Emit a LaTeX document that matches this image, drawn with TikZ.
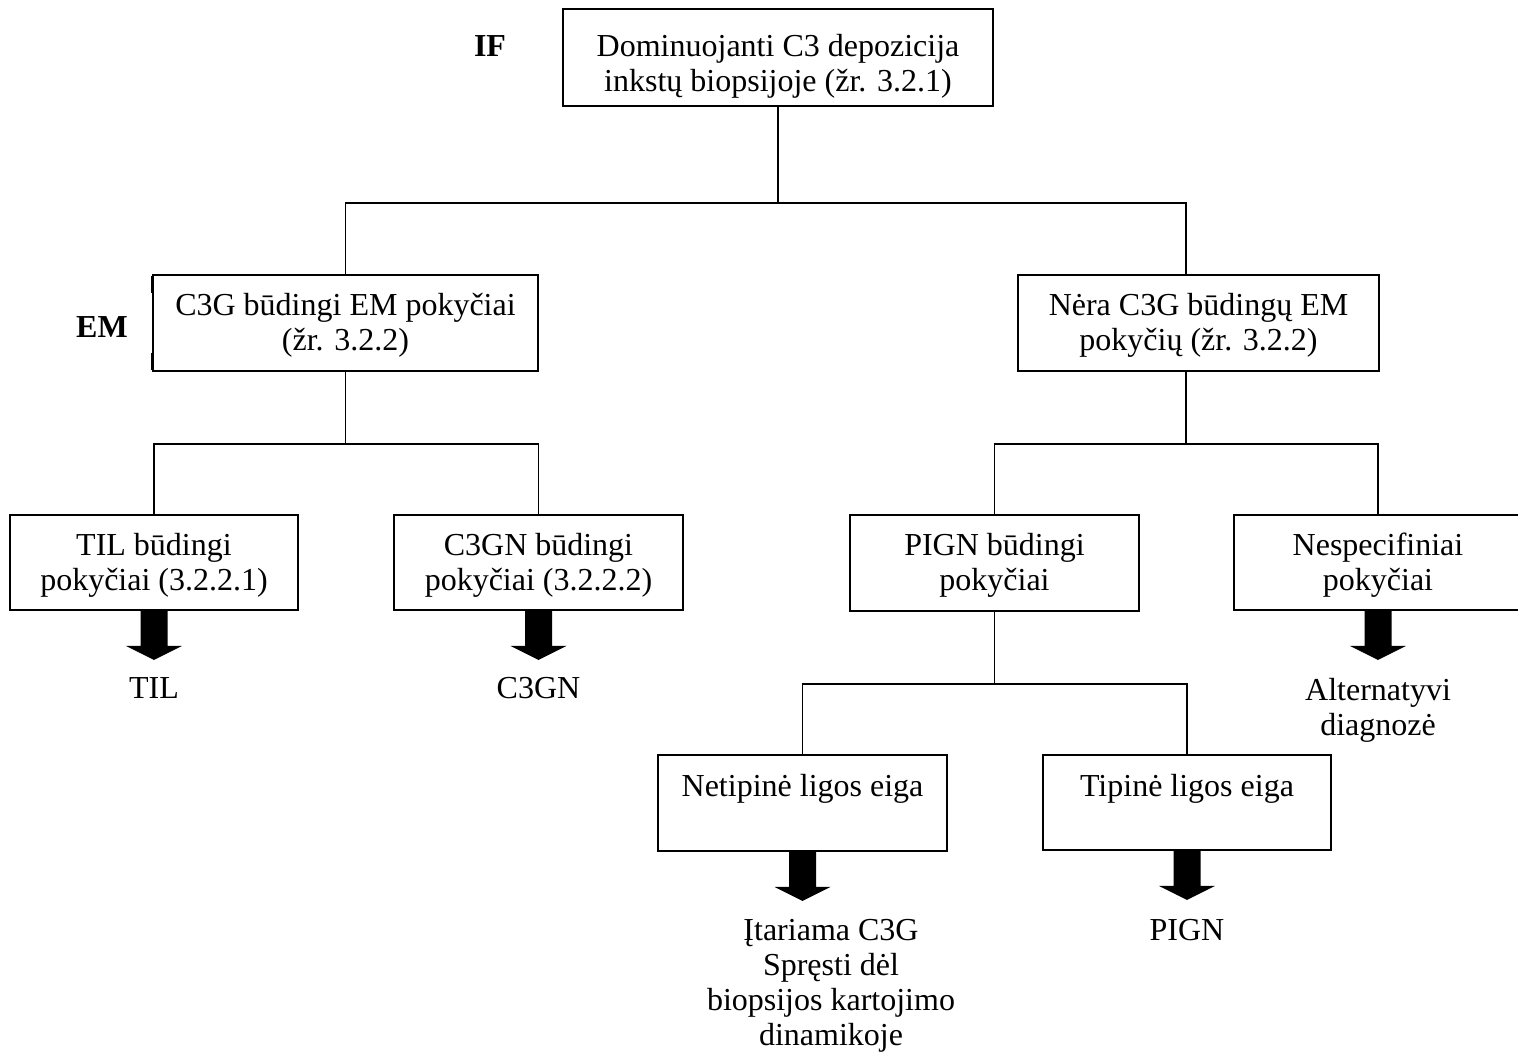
\documentclass[tikz,border=0pt]{standalone}
\usepackage{fontspec}
\setmainfont{Liberation Serif}
\usetikzlibrary{calc}
\newcommand\dgfont{\fontsize{32}{35}\selectfont}
\newcommand\tl[1]{\begin{tabular}[t]{@{}c@{}}#1\end{tabular}}
\newcommand\blockarrow[1]{%
  \fill ($(#1.south)+(-13.5,-1)$) -- ($(#1.south)+(13.5,-1)$) -- ($(#1.south)+(13.5,35)$)
    -- ($(#1.south)+(28,35)$) -- ($(#1.south)+(0,49)$) -- ($(#1.south)+(-28,35)$)
    -- ($(#1.south)+(-13.5,35)$) -- cycle;}
\begin{document}
\begin{tikzpicture}[x=1pt,y=-1pt,
  box/.style={draw, line width=1.8pt, inner sep=0pt},
  txt/.style={inner sep=0pt, anchor=base, font=\dgfont},
  lbl/.style={inner sep=0pt, anchor=base, font=\dgfont\bfseries},
  conn/.style={line width=1.6pt}]
\useasboundingbox (0,0) rectangle (1518,1056);
\fill[white] (0,0) rectangle (1518,1056);

% boxes
\node[box, minimum width=430pt, minimum height=97pt] (top) at (778,57.5) {};
\node[box, minimum width=385pt, minimum height=96pt] (c3g) at (345.5,323) {};
\node[box, minimum width=361pt, minimum height=96pt] (nera) at (1198.5,323) {};
\node[box, minimum width=288pt, minimum height=95pt] (til) at (154,562.5) {};
\node[box, minimum width=289pt, minimum height=95pt] (c3gn) at (538.5,562.5) {};
\node[box, minimum width=289pt, minimum height=96pt] (pign) at (994.5,563) {};
\node[box, minimum width=288pt, minimum height=95pt] (nesp) at (1378,562.5) {};
\node[box, minimum width=289pt, minimum height=96pt] (netip) at (802.5,803) {};
\node[box, minimum width=288pt, minimum height=95pt] (tip) at (1187,802.5) {};

% small marks on left edge of the EM box
\draw[line width=1.4pt] (151.5,276) -- (151.5,293);
\draw[line width=1.4pt] (151.5,353) -- (151.5,370);

% box texts
\node[txt] (ttop) at (778,57) {\tl{Dominuojanti C3 depozicija\\inkstų biopsijoje (žr. 3.2.1)}};
\node[txt] (tc3g) at (345.5,316) {\tl{C3G būdingi EM pokyčiai\\(žr. 3.2.2)}};
\node[txt] (tnera) at (1198.5,316) {\tl{Nėra C3G būdingų EM\\pokyčių (žr. 3.2.2)}};
\node[txt] (ttil) at (154,555) {\tl{TIL būdingi\\pokyčiai (3.2.2.1)}};
\node[txt] (tc3gn) at (538.5,555) {\tl{C3GN būdingi\\pokyčiai (3.2.2.2)}};
\node[txt] (tpign) at (994.5,555) {\tl{PIGN būdingi\\pokyčiai}};
\node[txt] (tnesp) at (1378,555) {\tl{Nespecifiniai\\pokyčiai}};
\node[txt] (tnetip) at (802.5,796) {Netipinė ligos eiga};
\node[txt] (ttip) at (1187,796) {Tipinė ligos eiga};

% side labels
\node[lbl] (if) at (490,57) {IF};
\node[lbl] (em) at (102,338) {EM};

% connectors
\coordinate (j1) at (778,203);
\draw[conn] (top.south) -- (j1);
\draw[conn] (c3g.north) |- (j1) -| ([xshift=-12.5pt]nera.north);
\draw[conn] (c3g.south) -- ++(0,72) coordinate (j2);
\draw[conn] (til.north) |- (j2) -| (c3gn.north);
\draw[conn] ([xshift=-12.5pt]nera.south) -- ++(0,72) coordinate (j3);
\draw[conn] (pign.north) |- (j3) -| (nesp.north);
\draw[conn] (pign.south) -- ++(0,72) coordinate (j4);
\draw[conn] (netip.north) |- (j4) -| (tip.north);

% block arrows
\blockarrow{til}
\blockarrow{c3gn}
\blockarrow{nesp}
\blockarrow{netip}
\blockarrow{tip}

% outcomes
\node[txt] (otil) at (154,698) {TIL};
\node[txt] (oc3gn) at (538.5,698) {C3GN};
\node[txt] (onesp) at (1378,700) {\tl{Alternatyvi\\diagnozė}};
\node[txt] (onetip) at (831,940) {\tl{Įtariama C3G\\Spręsti dėl\\biopsijos kartojimo\\dinamikoje}};
\node[txt] (otip) at (1187,940) {PIGN};
\end{tikzpicture}
\end{document}
